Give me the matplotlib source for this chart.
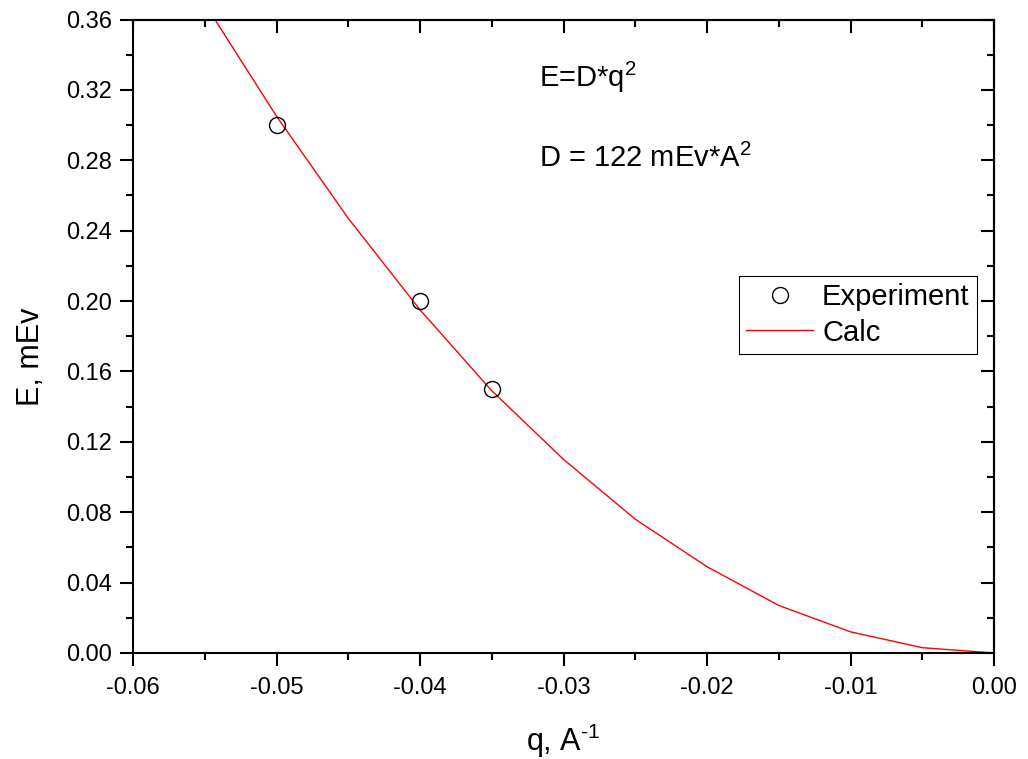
import matplotlib
matplotlib.use("Agg")
import matplotlib.pyplot as plt
from matplotlib.ticker import MultipleLocator, FormatStrFormatter

plt.rcParams['font.family'] = ['Liberation Sans', 'DejaVu Sans']
plt.rcParams['mathtext.fontset'] = 'custom'
plt.rcParams['mathtext.rm'] = 'Liberation Sans'
plt.rcParams['mathtext.it'] = 'Liberation Sans'

# Datos experimentales
q_exp = [-0.050, -0.040, -0.035]
e_exp = [0.300, 0.200, 0.150]

# Curva calculada
q_calc = [-0.055, -0.050, -0.045, -0.040, -0.035, -0.030, -0.025,
          -0.020, -0.015, -0.010, -0.005, 0.000]
e_calc = [0.369, 0.305, 0.247, 0.195, 0.149, 0.110, 0.076,
          0.049, 0.027, 0.012, 0.003, 0.000]

fig = plt.figure(figsize=(10.28, 7.59), dpi=100)
ax = fig.add_axes([0.1294, 0.1397, 0.8376, 0.8346])

ax.plot(q_exp, e_exp, 'o', markerfacecolor='none', markeredgecolor='black',
        markersize=11.5, markeredgewidth=1.0, label='Experiment', zorder=3)
ax.plot(q_calc, e_calc, color='red', linewidth=1.0, label='Calc')

ax.set_xlim(-0.06, 0.0)
ax.set_ylim(0.0, 0.36)
ax.xaxis.set_major_locator(MultipleLocator(0.01))
ax.xaxis.set_minor_locator(MultipleLocator(0.005))
ax.yaxis.set_major_locator(MultipleLocator(0.04))
ax.yaxis.set_minor_locator(MultipleLocator(0.02))
ax.xaxis.set_major_formatter(FormatStrFormatter('%.2f'))
ax.yaxis.set_major_formatter(FormatStrFormatter('%.2f'))

for s in ax.spines.values():
    s.set_linewidth(1.5)

ax.tick_params(which='major', direction='out', length=9.4, width=1.5,
               labelsize=17, pad=6)
ax.tick_params(axis='x', which='major', pad=8)
ax.tick_params(which='minor', direction='out', length=5, width=1.5)

# Marcas hacia adentro en los ejes superior y derecho
top = ax.secondary_xaxis('top')
top.xaxis.set_major_locator(MultipleLocator(0.01))
top.xaxis.set_minor_locator(MultipleLocator(0.005))
top.tick_params(which='major', direction='in', length=9.4, width=1.5, labeltop=False)
top.tick_params(which='minor', direction='in', length=5, width=1.5)
right = ax.secondary_yaxis('right')
right.yaxis.set_major_locator(MultipleLocator(0.04))
right.yaxis.set_minor_locator(MultipleLocator(0.02))
right.tick_params(which='major', direction='in', length=9.4, width=1.5, labelright=False)
right.tick_params(which='minor', direction='in', length=5, width=1.5)
for sec in (top, right):
    for s in sec.spines.values():
        s.set_linewidth(1.5)

ax.set_xlabel('q, A$^{\u20101}$', fontsize=22, labelpad=16)
ax.set_ylabel('E, mEv', fontsize=22)
ax.yaxis.set_label_coords(-0.101, 0.467)

ax.text(0.4715, 0.909, 'E=D*q$^2$', transform=ax.transAxes, fontsize=21,
        ha='left', va='center')
ax.text(0.4715, 0.781, 'D = 122 mEv*A$^2$', transform=ax.transAxes, fontsize=21,
        ha='left', va='center')

leg = ax.legend(loc='upper left', bbox_to_anchor=(739 / 1028, 1 - 276 / 759),
                bbox_transform=fig.transFigure, fontsize=21, frameon=True,
                fancybox=False, edgecolor='black', framealpha=1,
                borderpad=0.25, labelspacing=0.25, handlelength=2.3,
                handletextpad=0.3, borderaxespad=0)
leg.get_frame().set_linewidth(0.8)

plt.savefig("out.png", dpi=100)
